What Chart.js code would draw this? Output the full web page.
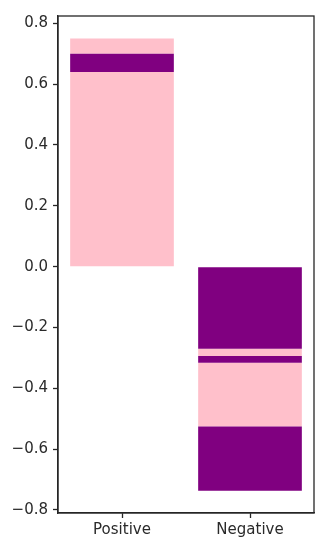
<!DOCTYPE html>
<html>
<head>
<meta charset="utf-8">
<script src="https://cdn.jsdelivr.net/npm/chart.js@4/dist/chart.umd.min.js"></script>
<style>
html,body{margin:0;padding:0;background:#fff;}
#wrap{width:328px;height:550px;position:relative;}
</style>
</head>
<body>
<div id="wrap"><canvas id="c"></canvas></div>
<script>
const categories = ['Positive', 'Negative'];
// [category, start, end]
const pinkSegments = [
  ['Positive', 0, 0.64],
  ['Positive', 0.70, 0.75],
  ['Negative', -0.27, -0.294],
  ['Negative', -0.316, -0.526]
];
const purpleSegments = [
  ['Positive', 0.64, 0.70],
  ['Negative', 0, -0.27],
  ['Negative', -0.294, -0.316],
  ['Negative', -0.526, -0.737]
];
const yTicks = [-0.8, -0.6, -0.4, -0.2, 0.0, 0.2, 0.4, 0.6, 0.8];

const PINK = '#FFC0CB';
const PURPLE = '#800080';
const TEXT = '#2a2a2a';
const LINE = '#262626';

function toDataset(seg, color) {
  return {
    data: categories.map(c => c === seg[0] ? [seg[1], seg[2]] : null),
    backgroundColor: color,
    borderWidth: 0,
    barPercentage: 1,
    categoryPercentage: 0.81
  };
}
const datasets = [
  ...purpleSegments.map(s => toDataset(s, PURPLE)),
  ...pinkSegments.map(s => toDataset(s, PINK))
];

const frame = {
  id: 'frame',
  afterDraw(chart) {
    const {ctx, chartArea: a} = chart;
    ctx.save();
    ctx.strokeStyle = LINE;
    ctx.lineWidth = 1.3;
    ctx.strokeRect(a.left, a.top, a.right - a.left, a.bottom - a.top);
    ctx.restore();
  }
};

const font = {family: 'DejaVu Sans', size: 15};

new Chart(document.getElementById('c'), {
  type: 'bar',
  data: {labels: categories, datasets},
  options: {
    responsive: true,
    maintainAspectRatio: false,
    animation: false,
    devicePixelRatio: 1,
    layout: {padding: {left: 0, right: 14, top: 16, bottom: 0}},
    plugins: {legend: {display: false}, tooltip: {enabled: false}},
    scales: {
      x: {
        stacked: true,
        offset: true,
        grid: {display: true, drawOnChartArea: false, drawTicks: true, tickLength: 5, tickColor: LINE, tickWidth: 1.3, offset: false},
        border: {display: true, color: LINE, width: 1.3},
        ticks: {color: TEXT, font, padding: 3, maxRotation: 0},
        afterFit(s) { s.height = 37; }
      },
      y: {
        stacked: false,
        min: -0.81,
        max: 0.824,
        grid: {display: true, drawOnChartArea: false, drawTicks: true, tickLength: 5, tickColor: LINE, tickWidth: 1.3},
        border: {display: true, color: LINE, width: 1.3},
        afterBuildTicks(s) { s.ticks = yTicks.map(v => ({value: v})); },
        ticks: {
          color: TEXT, font, padding: 5,
          callback: v => (v < -1e-9 ? '\u2212' : '') + Math.abs(v).toFixed(1)
        },
        afterFit(s) { s.width = 58; }
      }
    }
  },
  plugins: [frame]
});
</script>
</body>
</html>
